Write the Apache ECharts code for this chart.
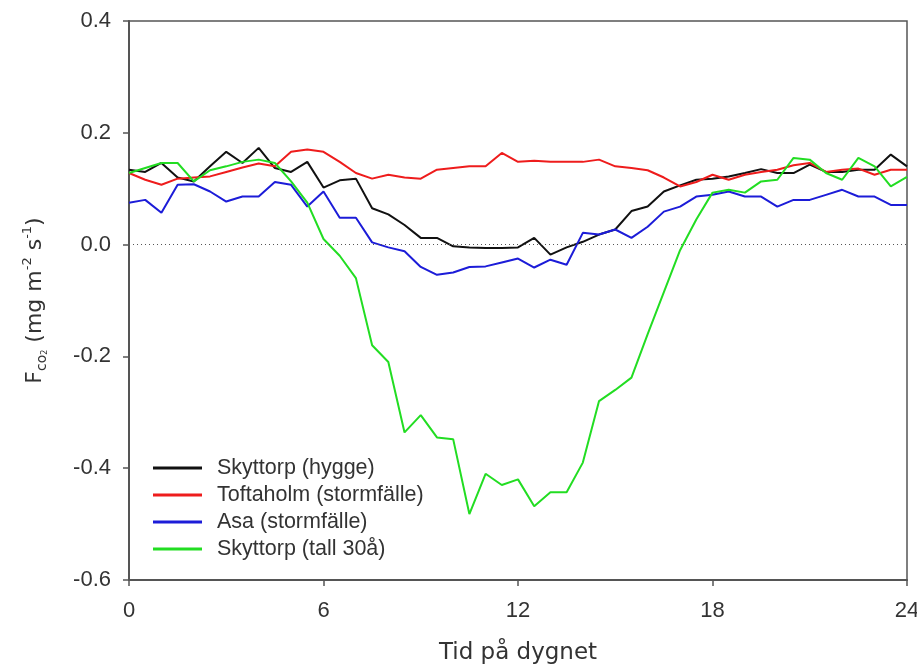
<!DOCTYPE html>
<html>
<head>
    <meta charset="utf-8">
    <title>Fco2 dygn</title>
    <script src="https://cdn.jsdelivr.net/npm/echarts@6/dist/echarts.min.js"></script>
    <style>
        html, body { margin: 0; padding: 0; background: #fff; }
        #main { width: 917px; height: 672px; }
    </style>
</head>
<body>
    <div id="main"></div>
    <script type="text/javascript">
        // halvtimmesvärden 0..24 h
        var hours = [];
        for (var i = 0; i <= 48; i++) hours.push(i / 2);

        var skyttorpHygge = [0.134, 0.13, 0.146, 0.12, 0.113, 0.14, 0.166, 0.146, 0.173, 0.137,
            0.13, 0.148, 0.102, 0.115, 0.118, 0.065, 0.054, 0.035, 0.012, 0.012,
            -0.003, -0.005, -0.006, -0.006, -0.005, 0.012, -0.018, -0.005, 0.005, 0.018,
            0.027, 0.06, 0.068, 0.095, 0.106, 0.116, 0.118, 0.122, 0.128, 0.135,
            0.128, 0.128, 0.143, 0.13, 0.13, 0.134, 0.134, 0.161, 0.14];
        var toftaholm = [0.128, 0.116, 0.107, 0.118, 0.12, 0.122, 0.13, 0.138, 0.145, 0.14,
            0.166, 0.17, 0.166, 0.148, 0.128, 0.118, 0.125, 0.12, 0.118, 0.134,
            0.137, 0.14, 0.14, 0.164, 0.148, 0.15, 0.148, 0.148, 0.148, 0.152,
            0.14, 0.137, 0.133, 0.12, 0.104, 0.112, 0.125, 0.116, 0.125, 0.13,
            0.134, 0.142, 0.146, 0.13, 0.134, 0.136, 0.125, 0.134, 0.134];
        var asa = [0.075, 0.08, 0.057, 0.107, 0.108, 0.095, 0.077, 0.086, 0.086, 0.112,
            0.107, 0.068, 0.095, 0.048, 0.048, 0.004, -0.005, -0.012, -0.04, -0.054,
            -0.05, -0.04, -0.039, -0.032, -0.025, -0.041, -0.027, -0.036, 0.021, 0.018,
            0.027, 0.012, 0.032, 0.059, 0.068, 0.086, 0.089, 0.095, 0.086, 0.086,
            0.068, 0.08, 0.08, 0.089, 0.098, 0.086, 0.086, 0.071, 0.071];
        var skyttorpTall = [0.128, 0.137, 0.146, 0.146, 0.113, 0.133, 0.14, 0.148, 0.152, 0.146,
            0.113, 0.075, 0.01, -0.02, -0.06, -0.18, -0.21, -0.336, -0.305, -0.345,
            -0.348, -0.482, -0.41, -0.43, -0.42, -0.468, -0.443, -0.443, -0.39, -0.28,
            -0.26, -0.238, -0.16, -0.085, -0.01, 0.045, 0.093, 0.098, 0.093, 0.113,
            0.116, 0.155, 0.152, 0.128, 0.116, 0.155, 0.14, 0.104, 0.121];

        var names = ['Skyttorp (hygge)', 'Toftaholm (stormfälle)', 'Asa (stormfälle)', 'Skyttorp (tall 30å)'];
        var colors = ['#111111', '#ee1c1c', '#1c1cd8', '#22dd22'];
        var allData = [skyttorpHygge, toftaholm, asa, skyttorpTall];

        function pairs(arr) {
            return arr.map(function (v, i) { return [hours[i], v]; });
        }

        var series = allData.map(function (d, i) {
            return {
                name: names[i],
                type: 'line',
                symbol: 'none',
                data: pairs(d),
                lineStyle: { color: colors[i], width: 2 },
                itemStyle: { color: colors[i] },
                z: 3
            };
        });
        // prickad nollinje
        series[0].markLine = {
            silent: true,
            symbol: 'none',
            label: { show: false },
            lineStyle: { color: '#555', type: [1, 3], width: 1.2 },
            data: [{ yAxis: 0 }]
        };

        var titleFont = 'DejaVu Sans';
        var labelFont = 'Liberation Sans';

        var myChart = echarts.init(document.getElementById('main'));
        myChart.setOption({
            animation: false,
            color: colors,
            grid: {
                left: 129, right: 10, top: 21, bottom: 92,
                outerBoundsMode: 'none',
                show: true, borderColor: '#555', borderWidth: 1.5
            },
            legend: {
                orient: 'vertical',
                left: 148, top: 452,
                icon: 'rect',
                itemWidth: 49, itemHeight: 3, itemGap: 5,
                data: names,
                textStyle: { fontSize: 21.5, color: '#333', fontFamily: labelFont, padding: [0, 0, 0, 10] }
            },
            xAxis: {
                type: 'value',
                min: 0, max: 24, interval: 6,
                name: 'Tid på dygnet',
                nameLocation: 'middle',
                nameGap: 62,
                nameTextStyle: { fontSize: 23, color: '#333', fontFamily: titleFont },
                axisLine: { onZero: false, lineStyle: { color: '#555', width: 2 } },
                axisTick: { inside: false, length: 6, lineStyle: { color: '#555', width: 1.5 } },
                axisLabel: { fontSize: 22, color: '#333', fontFamily: labelFont, margin: 20 },
                splitLine: { show: false }
            },
            yAxis: {
                type: 'value',
                min: -0.6, max: 0.4, interval: 0.2,
                name: '{b|F}{s|co}{ss|2}{b| (mg m}{p|-2}{b| s}{p|-1}{b|)}',
                nameLocation: 'middle',
                nameGap: 80,
                nameTextStyle: {
                    color: '#333',
                    fontFamily: titleFont,
                    rich: {
                        b: { fontSize: 22, color: '#333', lineHeight: 28, fontFamily: titleFont },
                        s: { fontSize: 14, color: '#333', verticalAlign: 'bottom', lineHeight: 28, fontFamily: titleFont },
                        ss: { fontSize: 8, color: '#333', verticalAlign: 'bottom', lineHeight: 28, fontFamily: titleFont },
                        p: { fontSize: 13, color: '#333', verticalAlign: 'top', lineHeight: 28, fontFamily: titleFont }
                    }
                },
                axisLine: { show: true, onZero: false, lineStyle: { color: '#555', width: 2 } },
                axisTick: { show: true, inside: false, length: 6, lineStyle: { color: '#555', width: 1.5 } },
                axisLabel: {
                    fontSize: 22, color: '#333', fontFamily: labelFont, margin: 18,
                    formatter: function (v) { return v.toFixed(1); }
                },
                splitLine: { show: false }
            },
            series: series
        });
    </script>
</body>
</html>
